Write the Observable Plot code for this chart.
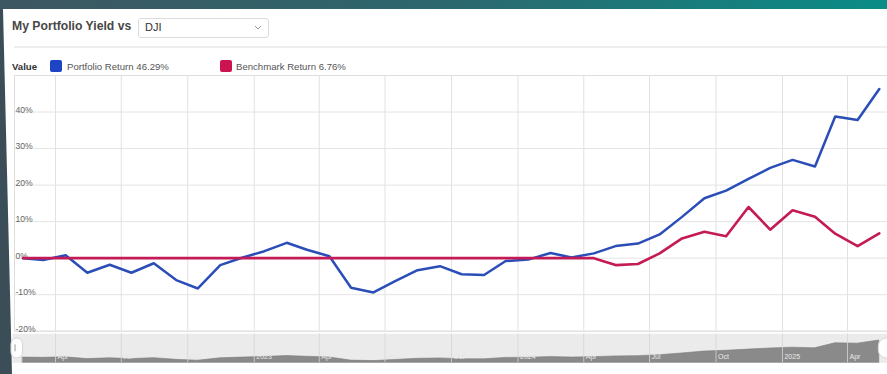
<!DOCTYPE html>
<html>
<head>
<meta charset="utf-8">
<script src="https://cdn.jsdelivr.net/npm/d3@7"></script>
<script src="https://cdn.jsdelivr.net/npm/@observablehq/plot@0.6"></script>
<style>
  html, body { margin: 0; padding: 0; background: #3b4e58; }
  #page { position: relative; width: 887px; height: 374px; overflow: hidden; background: #3b4e58;
          font-family: "Liberation Sans", Arial, Helvetica, sans-serif; }
  #band { position: absolute; left: 0; top: 0; width: 887px; height: 10px;
          background: linear-gradient(90deg, #3d5661 0%, #2c676d 50%, #0a8c87 100%); }
  #card { position: absolute; left: 0; top: 9px; width: 887px; height: 365px; background: #fff;
          clip-path: polygon(3px 0, 100% 0, 100% 100%, 12px 100%); }
  #title { position: absolute; left: 12px; top: 19px; font-size: 12.2px; font-weight: bold; color: #474747; }
  #picker { position: absolute; left: 138px; top: 18px; width: 129px; height: 18px; border: 1px solid #dcdcdc;
            border-radius: 3px; background: #fff; }
  #picker span { position: absolute; left: 6px; top: 2px; font-size: 11px; color: #333; }
  #picker svg { position: absolute; left: 115px; top: 6px; }
  #divider { position: absolute; left: 14px; top: 46px; width: 873px; height: 2px; background: #eeeeee; }
  #legend { position: absolute; left: 12px; top: 60px; height: 12px; font-size: 9.6px; color: #555; }
  #legend .v { position: absolute; left: 0; top: 1px; font-weight: bold; color: #333; }
  #legend .sw { position: absolute; top: 0; width: 12px; height: 12px; border-radius: 2px; }
  #legend .lb { position: absolute; top: 1px; white-space: nowrap; }
  #main { position: absolute; left: 0; top: 74px; }
  #nav { position: absolute; left: 0; top: 331px; }
</style>
</head>
<body>
<div id="page">
  <div id="band"></div>
  <div id="card"></div>
  <div id="title">My Portfolio Yield vs</div>
  <div id="picker"><span>DJI</span>
    <svg width="8" height="6"><polyline points="1,1 4,4 7,1" fill="none" stroke="#999" stroke-width="1"/></svg>
  </div>
  <div id="divider"></div>
  <div id="legend">
    <div class="v">Value</div>
    <div class="sw" style="left:38px;background:#1e44c6"></div>
    <div class="lb" id="lbP" style="left:55px"></div>
    <div class="sw" style="left:208px;background:#cc1451"></div>
    <div class="lb" id="lbB" style="left:224px"></div>
  </div>
  <div id="main"></div>
  <div id="nav"></div>
</div>
<script>
// Monthly observations (mid-month)
const months = [
  "2022-02","2022-03","2022-04","2022-05","2022-06","2022-07","2022-08","2022-09","2022-10","2022-11","2022-12",
  "2023-01","2023-02","2023-03","2023-04","2023-05","2023-06","2023-07","2023-08","2023-09","2023-10","2023-11","2023-12",
  "2024-01","2024-02","2024-03","2024-04","2024-05","2024-06","2024-07","2024-08","2024-09","2024-10","2024-11","2024-12",
  "2025-01","2025-02","2025-03","2025-04","2025-05"
];

// Cumulative return of the portfolio, %
const portfolioReturn = [
  0, -0.5, 0.8, -4.0, -1.8, -4.0, -1.4, -6.0, -8.3, -1.9, 0.1,
  1.9, 4.2, 2.3, 0.5, -8.1, -9.4, -6.3, -3.3, -2.2, -4.4, -4.6, -0.8,
  -0.4, 1.4, 0.2, 1.3, 3.3, 4.0, 6.5, 11.3, 16.4, 18.5, 21.7, 24.7,
  26.9, 25.1, 38.8, 37.8, 46.29
];

// Cumulative return of the benchmark (DJI), %
const benchmarkReturn = [
  0, 0, 0, 0, 0, 0, 0, 0, 0, 0, 0,
  0, 0, 0, 0, 0, 0, 0, 0, 0, 0, 0, 0,
  0, 0, 0, 0, -1.9, -1.6, 1.3, 5.4, 7.2, 6.0, 14.0, 7.8,
  13.1, 11.3, 6.7, 3.3, 6.76
];

// Quarter boundaries used for the grid and navigator labels
const quarterTicks = [
  "2022-04-01","2022-07-01","2022-10-01","2023-01-01","2023-04-01","2023-07-01","2023-10-01",
  "2024-01-01","2024-04-01","2024-07-01","2024-10-01","2025-01-01","2025-04-01"
].map(s => new Date(s + "T00:00:00Z"));

const yTicks = [-20, -10, 0, 10, 20, 30, 40];

const blue = "#2b4db8";
const red = "#c41a55";

const rows = months.map((m, i) => ({
  date: new Date(m + "-15T00:00:00Z"),
  portfolio: portfolioReturn[i],
  benchmark: benchmarkReturn[i]
}));

const last = rows[rows.length - 1];
document.getElementById("lbP").textContent = `Portfolio Return ${last.portfolio.toFixed(2)}%`;
document.getElementById("lbB").textContent = `Benchmark Return ${last.benchmark.toFixed(2)}%`;

const xDomain = d3.extent(rows, d => d.date);
const xRange = [22.5, 878.8];
const font = '"Liberation Sans", Arial, Helvetica, sans-serif';

const main = Plot.plot({
  width: 887,
  height: 260,
  marginLeft: 14,
  marginRight: 0,
  marginTop: 1,
  marginBottom: 3.3,
  style: { background: "transparent", fontFamily: font, overflow: "visible" },
  x: { type: "utc", domain: xDomain, range: xRange, axis: null },
  y: { domain: [-20, 50], range: [256.7, 1], axis: null },
  marks: [
    Plot.ruleY(yTicks, { stroke: "#e4e4e4", strokeWidth: 1 }),
    Plot.ruleX(quarterTicks, { stroke: "#e2e2e2", strokeWidth: 1 }),
    Plot.frame({ stroke: "#dedede" }),
    Plot.text(yTicks, {
      y: d => d, text: d => `${d}%`, frameAnchor: "left", textAnchor: "start",
      dx: 1, dy: -2, fontSize: 8.6, fill: "#666"
    }),
    Plot.line(rows, { x: "date", y: "portfolio", stroke: blue, strokeWidth: 2.5, strokeLinejoin: "round" }),
    Plot.line(rows, { x: "date", y: "benchmark", stroke: red, strokeWidth: 2.6, strokeLinejoin: "round" })
  ]
});
document.getElementById("main").append(main);

// Navigator strip: overview of the portfolio series over the full range
const navFloor = -14;
const quarterLabel = d => d.getUTCMonth() === 0 ? String(d.getUTCFullYear()) : d3.utcFormat("%b")(d);

const nav = Plot.plot({
  width: 887,
  height: 36,
  marginLeft: 12,
  marginRight: 0,
  marginTop: 2.3,
  marginBottom: 4.7,
  style: { background: "transparent", fontFamily: font, overflow: "visible" },
  x: { type: "utc", domain: xDomain, range: xRange, axis: null },
  y: { domain: [navFloor, 46.29], range: [31.3, 9], axis: null },
  marks: [
    Plot.frame({ fill: "#ebebeb", stroke: null }),
    Plot.areaY(rows, { x: "date", y1: () => navFloor, y2: "portfolio", fill: "#8a8a8a", stroke: "#7a7a7a", strokeWidth: 0.6 }),
    Plot.ruleX(quarterTicks, { stroke: "#d4d4d4", strokeOpacity: 0.8 }),
    Plot.text(quarterTicks, {
      x: d => d, text: quarterLabel, frameAnchor: "bottom", lineAnchor: "bottom",
      textAnchor: "start", dx: 2, dy: -4, fontSize: 7, fill: "#e9e9e9"
    }),
    Plot.rect([rows[0].date], {
      x1: d => d, x2: d => d, insetLeft: -11.5, insetRight: 0, insetTop: 4.7, insetBottom: 4.3,
      rx: 6, fill: "#fff", stroke: "#d6d6d6"
    }),
    Plot.ruleX([rows[0].date], { dx: -8, insetTop: 11, insetBottom: 11, stroke: "#999" }),
    Plot.rect([last.date], {
      x1: d => d, x2: d => d, insetLeft: -0.5, insetRight: -16, insetTop: 4.7, insetBottom: 4.3,
      rx: 8, fill: "#fff", stroke: "#d6d6d6"
    })
  ]
});
document.getElementById("nav").append(nav);
</script>
</body>
</html>
